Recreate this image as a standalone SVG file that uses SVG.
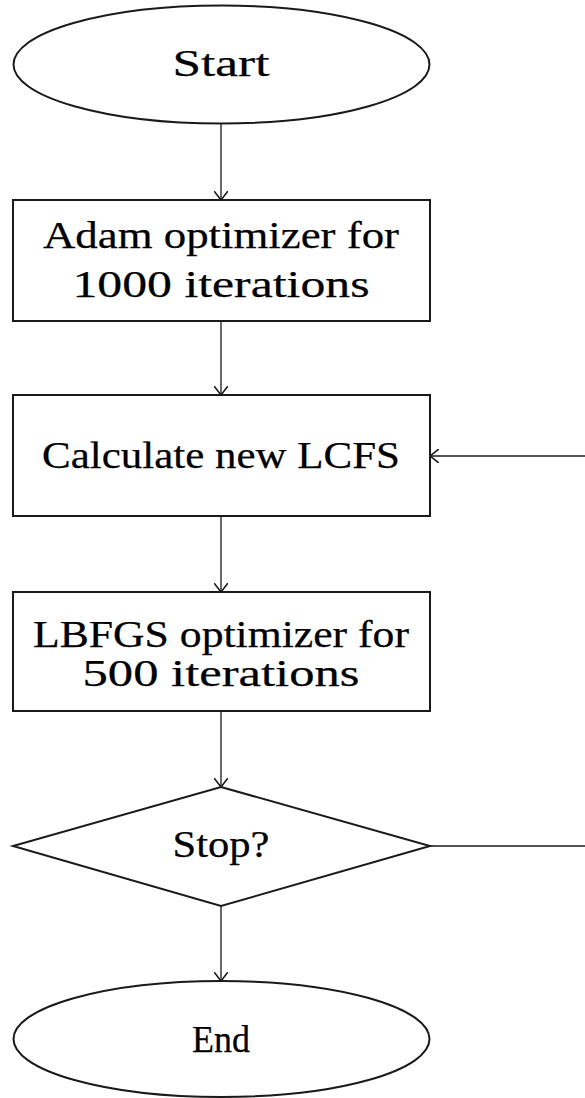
<svg xmlns="http://www.w3.org/2000/svg" width="585" height="1098" viewBox="0 0 585 1098">
<style>
.shape{fill:#fff;stroke:#1a1a1a;stroke-width:2}
.conn{fill:none;stroke:#1a1a1a;stroke-width:1.3}
text{font-family:"Liberation Serif",serif;font-size:37px;fill:#000;text-anchor:middle;stroke:#000;stroke-width:0.25}
</style>
<defs>
<marker id="arr" viewBox="0 0 10 10" refX="10" refY="5" markerWidth="9" markerHeight="14" markerUnits="userSpaceOnUse" orient="auto" preserveAspectRatio="none">
<path d="M0,0 L10,5 L0,10" fill="none" stroke="#1a1a1a" stroke-width="1.3"/>
</marker>
</defs>
<g id="connectors">
<line class="conn" x1="221" y1="124" x2="221" y2="200" marker-end="url(#arr)"/>
<line class="conn" x1="221" y1="321" x2="221" y2="395" marker-end="url(#arr)"/>
<line class="conn" x1="221" y1="516" x2="221" y2="592" marker-end="url(#arr)"/>
<line class="conn" x1="221" y1="711" x2="221" y2="787" marker-end="url(#arr)"/>
<line class="conn" x1="221" y1="906" x2="221" y2="981" marker-end="url(#arr)"/>
<path class="conn" d="M430,846 H590 V456 H430" marker-end="url(#arr)"/>
</g>
<g id="start">
<ellipse class="shape" cx="221.5" cy="64.5" rx="208" ry="59"/>
<text x="221" y="76" textLength="97" lengthAdjust="spacingAndGlyphs">Start</text>
</g>
<g id="adam">
<rect class="shape" x="13" y="200" width="417" height="121"/>
<text x="221" y="248" textLength="356" lengthAdjust="spacingAndGlyphs">Adam optimizer for</text>
<text x="221" y="297" textLength="297" lengthAdjust="spacingAndGlyphs">1000 iterations</text>
</g>
<g id="calc">
<rect class="shape" x="13" y="395" width="417" height="121"/>
<text x="221" y="468" textLength="358" lengthAdjust="spacingAndGlyphs">Calculate new LCFS</text>
</g>
<g id="lbfgs">
<rect class="shape" x="13" y="592" width="417" height="119"/>
<text x="221" y="647" textLength="376" lengthAdjust="spacingAndGlyphs">LBFGS optimizer for</text>
<text x="221" y="686" textLength="277" lengthAdjust="spacingAndGlyphs">500 iterations</text>
</g>
<g id="stop">
<polygon class="shape" points="221,787 430,846 221,906 13,846"/>
<text x="221" y="857" textLength="97" lengthAdjust="spacingAndGlyphs">Stop?</text>
</g>
<g id="end">
<ellipse class="shape" cx="221.5" cy="1039" rx="208" ry="58"/>
<text x="221" y="1052" textLength="58" lengthAdjust="spacingAndGlyphs">End</text>
</g>
</svg>
